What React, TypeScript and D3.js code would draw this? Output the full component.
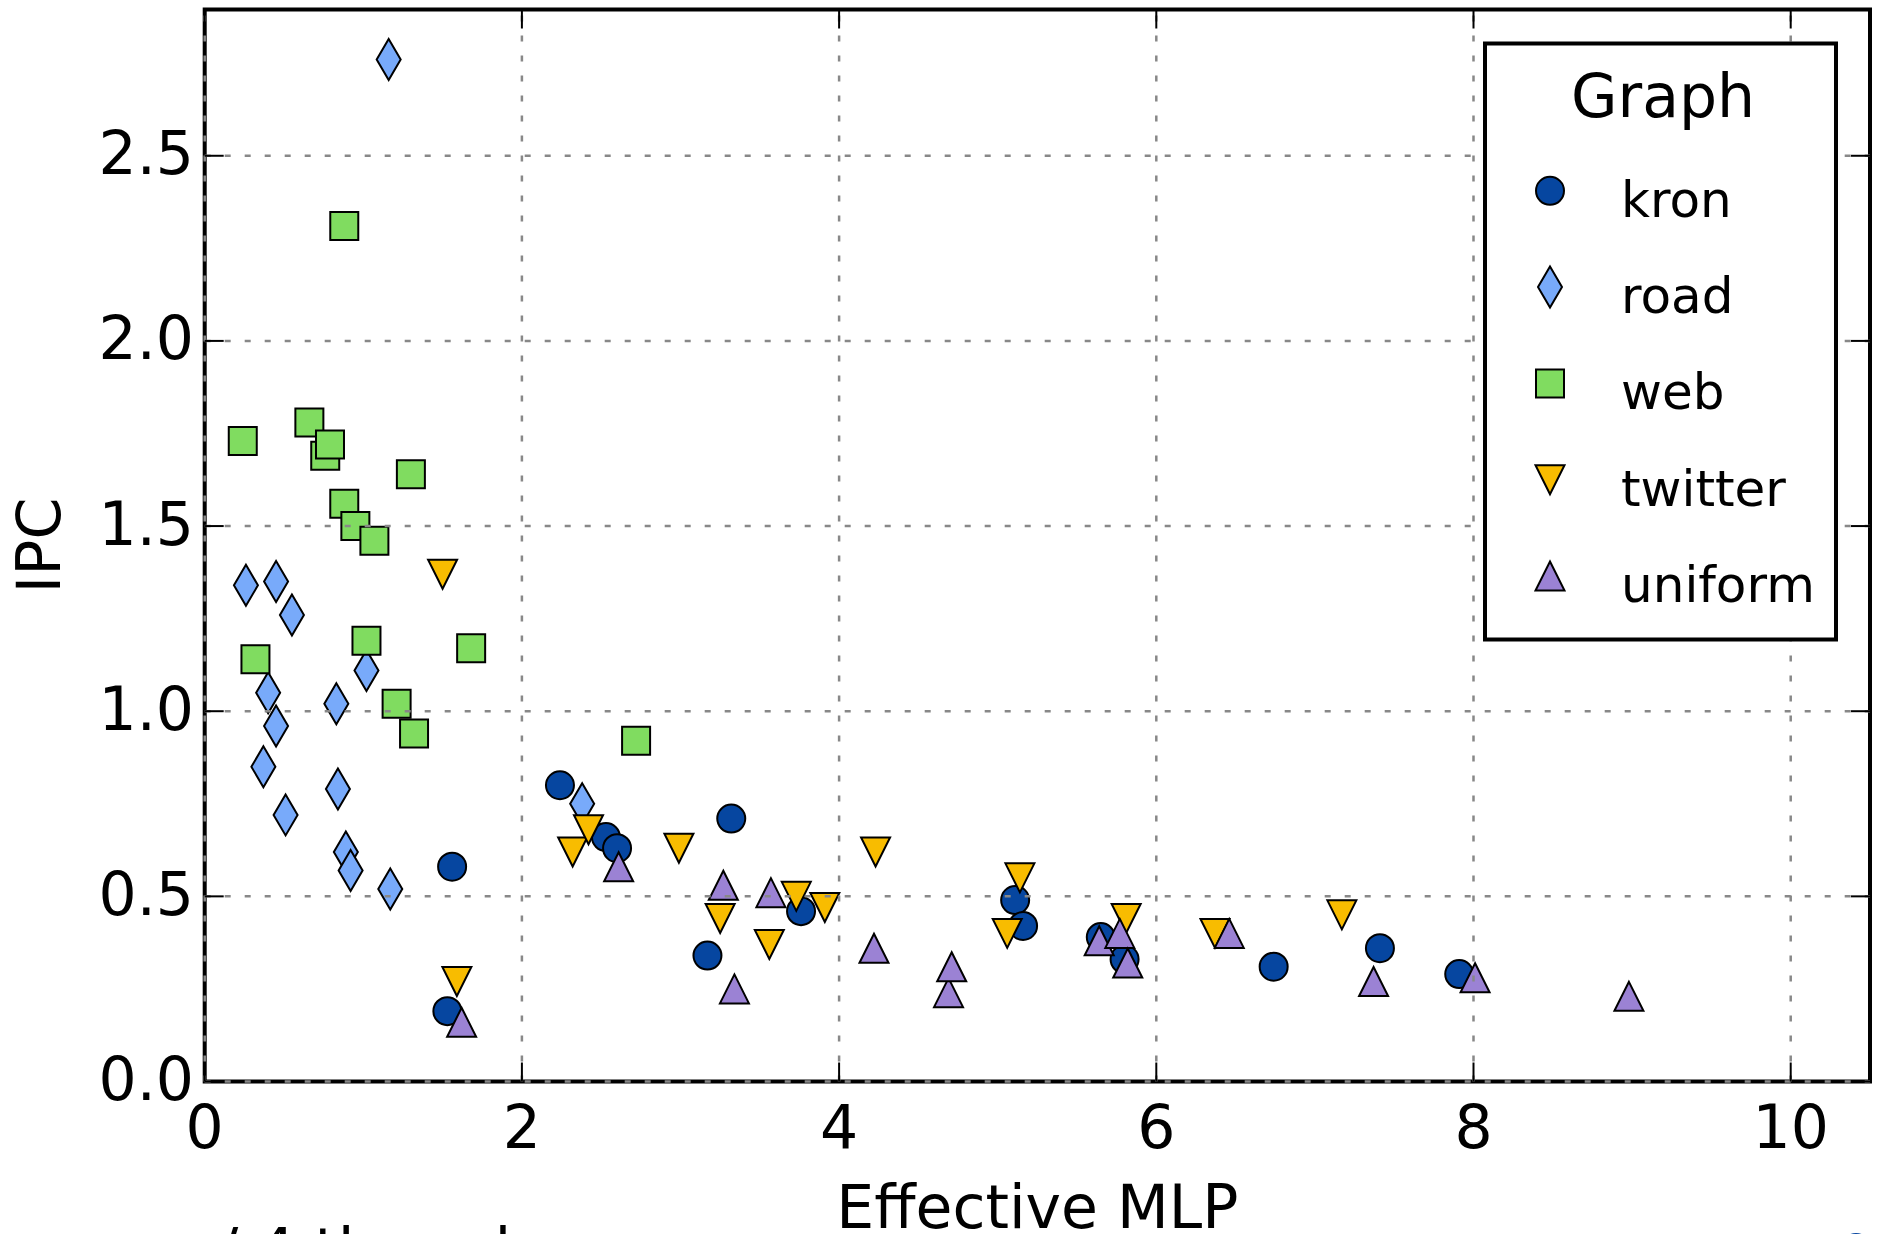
import React, { useEffect, useRef } from "react";
import * as d3 from "d3";

// data: [Effective MLP, IPC]
const kron = [
  [1.56, 0.58], [1.53, 0.19], [2.24, 0.8], [2.53, 0.66], [2.6, 0.63],
  [3.17, 0.34], [3.32, 0.71], [3.76, 0.46], [5.11, 0.49], [5.16, 0.42],
  [5.65, 0.39], [5.8, 0.33], [6.74, 0.31], [7.41, 0.36], [7.91, 0.29],
];
const road = [
  [1.16, 2.76], [0.26, 1.34], [0.45, 1.35], [0.55, 1.26], [0.4, 1.05],
  [0.45, 0.96], [0.37, 0.85], [0.51, 0.72], [0.83, 1.02], [1.02, 1.11],
  [0.84, 0.79], [0.89, 0.62], [0.92, 0.57], [1.17, 0.52], [2.38, 0.75],
];
const web = [
  [0.88, 2.31], [0.24, 1.73], [0.66, 1.78], [0.76, 1.69], [0.79, 1.72],
  [1.3, 1.64], [0.88, 1.56], [0.95, 1.5], [1.07, 1.46], [0.32, 1.14],
  [1.02, 1.19], [1.68, 1.17], [1.21, 1.02], [1.32, 0.94], [2.72, 0.92],
];
const twitter = [
  [1.5, 1.37], [1.59, 0.27], [2.32, 0.62], [2.42, 0.68], [2.99, 0.63],
  [3.25, 0.44], [3.56, 0.37], [3.73, 0.5], [3.91, 0.47], [4.23, 0.62],
  [5.06, 0.4], [5.14, 0.55], [5.81, 0.44], [6.37, 0.4], [7.17, 0.45],
];
const uniform = [
  [1.62, 0.16], [2.61, 0.58], [3.27, 0.53], [3.34, 0.25], [3.57, 0.51],
  [4.22, 0.36], [4.69, 0.24], [4.71, 0.31], [5.64, 0.38], [5.77, 0.4],
  [5.82, 0.32], [6.46, 0.4], [7.37, 0.27], [8.01, 0.28], [8.98, 0.23],
];

const seriesNames = ["kron", "road", "web", "twitter", "uniform"];
const seriesData = [kron, road, web, twitter, uniform];
const seriesColors = ["#0646A0", "#78AAFA", "#80DC60", "#F8BC00", "#9B82D4"];
const seriesShapes = ["circle", "diamond", "square", "down", "up"];

const xTicks = [0, 2, 4, 6, 8, 10];
const xTickLabels = ["0", "2", "4", "6", "8", "10"];
const yTicks = [0, 0.5, 1, 1.5, 2, 2.5];
const yTickLabels = ["0.0", "0.5", "1.0", "1.5", "2.0", "2.5"];

const W = 1877;
const H = 1234;
const FONT = "'DejaVu Sans', sans-serif";

const markerPath = (shape: string) => {
  if (shape === "circle") return d3.symbol(d3.symbolCircle, Math.PI * 14 * 14)();
  if (shape === "diamond") return "M0,-20.5L12,0L0,20.5L-12,0Z";
  if (shape === "square") return "M-14,-14H14V14H-14Z";
  if (shape === "down") return "M-14.5,-14.5L14.5,-14.5L0,14.5Z";
  return "M0,-14.5L14.5,14.5L-14.5,14.5Z";
};

const App = () => {
  const svgRef = useRef(null);

  useEffect(() => {
    const svg = d3.select(svgRef.current);
    svg.selectAll("*").remove();

    const left = 204.7, right = 1870, top = 9.5, bottom = 1081.5;
    const x = d3.scaleLinear().domain([0, 10.5]).range([left, right]);
    const y = d3.scaleLinear().domain([0, 2.895]).range([bottom, top]);

    // markers, series by series
    seriesData.forEach((pts, i) => {
      svg
        .append("g")
        .selectAll("path")
        .data(pts)
        .join("path")
        .attr("d", markerPath(seriesShapes[i]))
        .attr("transform", (d) => `translate(${x(d[0])},${y(d[1])})`)
        .attr("fill", seriesColors[i])
        .attr("stroke", "#000")
        .attr("stroke-width", 2);
    });

    // frame
    svg
      .append("rect")
      .attr("x", left)
      .attr("y", top)
      .attr("width", right - left)
      .attr("height", bottom - top)
      .attr("fill", "none")
      .attr("stroke", "#000")
      .attr("stroke-width", 4);

    // grid on top of markers and spines
    const grid = svg.append("g").attr("stroke", "#888").attr("stroke-width", 2.5).attr("stroke-dasharray", "6,14");
    xTicks.forEach((t) => {
      grid.append("line").attr("x1", x(t)).attr("x2", x(t)).attr("y1", bottom).attr("y2", top);
    });
    yTicks.forEach((t) => {
      grid.append("line").attr("x1", left).attr("x2", right).attr("y1", y(t)).attr("y2", y(t));
    });

    // inward ticks on all sides
    const ticks = svg.append("g").attr("stroke", "#000").attr("stroke-width", 2);
    xTicks.forEach((t) => {
      ticks.append("line").attr("x1", x(t)).attr("x2", x(t)).attr("y1", bottom).attr("y2", bottom - 19);
      ticks.append("line").attr("x1", x(t)).attr("x2", x(t)).attr("y1", top).attr("y2", top + 19);
    });
    yTicks.forEach((t) => {
      ticks.append("line").attr("x1", left).attr("x2", left + 19).attr("y1", y(t)).attr("y2", y(t));
      ticks.append("line").attr("x1", right).attr("x2", right - 19).attr("y1", y(t)).attr("y2", y(t));
    });

    // tick labels
    xTicks.forEach((t, i) => {
      svg
        .append("text")
        .attr("x", x(t))
        .attr("y", 1148)
        .attr("text-anchor", "middle")
        .attr("font-family", FONT)
        .attr("font-size", 60)
        .text(xTickLabels[i]);
    });
    yTicks.forEach((t, i) => {
      svg
        .append("text")
        .attr("x", 194)
        .attr("y", y(t) + 18.5)
        .attr("text-anchor", "end")
        .attr("font-family", FONT)
        .attr("font-size", 60)
        .text(yTickLabels[i]);
    });

    // axis labels
    svg
      .append("text")
      .attr("x", (left + right) / 2)
      .attr("y", 1228)
      .attr("text-anchor", "middle")
      .attr("font-family", FONT)
      .attr("font-size", 60)
      .text("Effective MLP");
    svg
      .append("text")
      .attr("transform", `translate(60,${(top + bottom) / 2}) rotate(-90)`)
      .attr("text-anchor", "middle")
      .attr("font-family", FONT)
      .attr("font-size", 60)
      .text("IPC");

    // legend
    const lg = svg.append("g");
    lg.append("rect")
      .attr("x", 1485)
      .attr("y", 43.5)
      .attr("width", 351)
      .attr("height", 596)
      .attr("fill", "#fff")
      .attr("stroke", "#000")
      .attr("stroke-width", 4);
    lg.append("text")
      .attr("x", 1663)
      .attr("y", 117)
      .attr("text-anchor", "middle")
      .attr("font-family", FONT)
      .attr("font-size", 60)
      .text("Graph");
    seriesNames.forEach((name, i) => {
      const cy = 190.8 + i * 96.3;
      lg.append("path")
        .attr("d", markerPath(seriesShapes[i]))
        .attr("transform", `translate(1550,${cy})`)
        .attr("fill", seriesColors[i])
        .attr("stroke", "#000")
        .attr("stroke-width", 2);
      lg.append("text")
        .attr("x", 1621)
        .attr("y", cy + 26)
        .attr("font-family", FONT)
        .attr("font-size", 50)
        .text(name);
    });

    // bits of the neighbouring figure that are cut by the crop
    svg
      .append("text")
      .attr("x", 218)
      .attr("y", 1271)
      .attr("font-family", FONT)
      .attr("font-size", 60)
      .text("/ 4 threads");
    svg
      .append("circle")
      .attr("cx", 1856)
      .attr("cy", 1248)
      .attr("r", 15)
      .attr("fill", seriesColors[0]);
  }, []);

  return (
    <svg
      ref={svgRef}
      width={W}
      height={H}
      style={{ position: "absolute", left: 0, top: 0, background: "#fff" }}
    ></svg>
  );
};

export default App;
